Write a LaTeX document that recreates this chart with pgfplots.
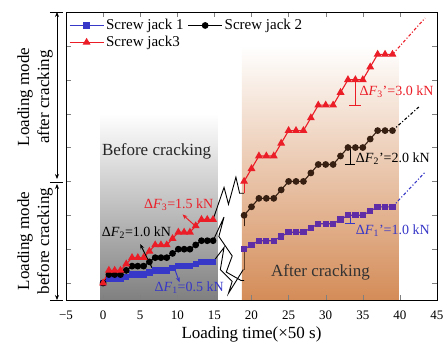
\documentclass[border=0pt]{standalone}
\usepackage{pgfplots}
\pgfplotsset{compat=1.18}
\usepackage{fontspec}
\setmainfont{Liberation Serif}
\usetikzlibrary{arrows.meta}
\definecolor{cblue}{RGB}{55,55,200}
\definecolor{cred}{RGB}{235,30,40}
\definecolor{cpurple}{RGB}{95,45,165}
\definecolor{cbrown}{RGB}{55,32,18}
\definecolor{corange}{RGB}{212,140,88}
\begin{document}
\begin{tikzpicture}
\begin{axis}[
  at={(0pt,0pt)}, anchor=south west,
  scale only axis, width=371pt, height=288pt,
  xmin=-5, xmax=45, ymin=-2, ymax=32,
  xtick={-5,0,...,45},
  xticklabels={−5,0,5,10,15,20,25,30,35,40,45},
  ytick={0,4,...,28}, yticklabels={},
  tick align=inside,
  major tick length=5pt,
  xticklabel style={font=\fontsize{13}{13}\selectfont, anchor=center, yshift=-15pt},
  xlabel={Loading time(×50 s)},
  xlabel style={font=\fontsize{17}{17}\selectfont, at={(axis description cs:0.5,0)}, anchor=center, yshift=-34pt},
  axis on top,
  legend columns=2,
  legend cell align=left,
  legend style={draw=none, fill=none, at={(axis description cs:0.005,0.985)}, anchor=north west,
    font=\fontsize{15}{15}\selectfont, inner sep=1pt, row sep=1pt,
    /tikz/every even column/.append style={column sep=2pt}},
  legend image code/.code={\draw[mark repeat=2,mark phase=2] plot coordinates {(0pt,0pt) (17pt,0pt) (34pt,0pt)};},
]
% backgrounds
\addplot[draw=none, forget plot, top color=white, bottom color=black!50] coordinates {(-0.4,-2) (-0.4,20) (15.4,20) (15.4,-2) (-0.4,-2)};
\addplot[draw=none, forget plot, top color=white, bottom color=corange] coordinates {(18.7,-2) (18.7,28) (39.8,28) (39.8,-2) (18.7,-2)};

% before cracking
\addplot[cblue, line width=1.1pt, mark=square*, mark size=2.6pt] coordinates {
(0,0) (0.78,0.5) (1.56,0.5) (2.34,0.5) (3.12,0.75) (3.9,1) (4.68,1) (5.46,1) (6.24,1.25) (7.02,1.5) (7.8,1.5) (8.58,1.5) (9.36,1.75) (10.14,2) (10.92,2) (11.7,2) (12.48,2.25) (13.26,2.5) (14.04,2.5) (14.82,2.5)};
\addlegendentry{Screw jack 1}
\addplot[black, line width=1.1pt, mark=*, mark size=2.8pt] coordinates {
(0,0) (0.78,1) (1.56,1) (2.34,1) (3.12,1.5) (3.9,2) (4.68,2) (5.46,2) (6.24,2.5) (7.02,3) (7.8,3) (8.58,3) (9.36,3.5) (10.14,4) (10.92,4) (11.7,4) (12.48,4.5) (13.26,5) (14.04,5) (14.82,5)};
\addlegendentry{Screw jack 2}
\addplot[cred, line width=1.1pt, mark=triangle*, mark size=3.5pt] coordinates {
(0,0) (0.78,1.5) (1.56,1.5) (2.34,1.5) (3.12,2.25) (3.9,3) (4.68,3) (5.46,3) (6.24,3.75) (7.02,4.5) (7.8,4.5) (8.58,4.5) (9.36,5.25) (10.14,6) (10.92,6) (11.7,6) (12.48,6.75) (13.26,7.5) (14.04,7.5) (14.82,7.5)};
\addlegendentry{Screw jack3}

% zigzag breaks
\addplot[black, line width=0.9pt, forget plot] coordinates {(14.82,7.5) (16.3,11.3) (16.9,9.3) (17.9,12.5) (18.4,10.6) (19,10.6)};
\addplot[black, line width=0.9pt, forget plot] coordinates {(14.82,5) (16.3,7.8) (15.6,5.5) (17.4,3.2) (16.6,1.3) (18.6,0.3) (19,0.3)};
\addplot[black, line width=0.9pt, forget plot] coordinates {(14.82,2.5) (16.3,4.2) (15.8,1.6) (17.4,0.2) (16.9,-1.2) (18.9,1.6)};
\addplot[cred, line width=1.1pt, forget plot] coordinates {(19,10.6) (19,12)};
\addplot[cbrown, line width=1.1pt, forget plot] coordinates {(19,6.7) (19,8)};
\addplot[black!40!corange!80!black, line width=1.1pt, forget plot] coordinates {(19,1.6) (19,4)};

% after cracking
\addplot[cpurple, line width=1.1pt, mark=square*, mark size=2.6pt, forget plot] coordinates {
(19,4) (20,4.5) (21,5) (22,5) (23,5) (24,5.5) (25,6) (26,6) (27,6) (28,6.5) (29,7) (30,7) (31,7) (32,7.5) (33,8) (34,8) (35,8) (36,8.5) (37,9) (38,9) (39,9)};
\addplot[cbrown, line width=1.1pt, mark=*, mark size=2.8pt, forget plot] coordinates {
(19,8) (20,9) (21,10) (22,10) (23,10) (24,11) (25,12) (26,12) (27,12) (28,13) (29,14) (30,14) (31,14) (32,15) (33,16) (34,16) (35,16) (36,17) (37,18) (38,18) (39,18)};
\addplot[cred, line width=1.1pt, mark=triangle*, mark size=3.5pt, forget plot] coordinates {
(19,12) (20,13.5) (21,15) (22,15) (23,15) (24,16.5) (25,18) (26,18) (27,18) (28,19.5) (29,21) (30,21) (31,21) (32,22.5) (33,24) (34,24) (35,24) (36,25.5) (37,27) (38,27) (39,27)};

% extensions
\addplot[cblue, line width=1.1pt, dash dot, forget plot] coordinates {(39,9) (43.4,13.1)};
\addplot[black, line width=1.1pt, dash dot, forget plot] coordinates {(39,18) (42.7,20.9)};
\addplot[cred, line width=1.1pt, dash dot, forget plot] coordinates {(39,27) (43.4,31.3)};

% brackets
\addplot[cred, line width=1pt, forget plot] coordinates {(34,24.3) (34,21)};
\addplot[cred, line width=1pt, forget plot] coordinates {(33.2,21) (34.8,21)};
\addplot[black, line width=1pt, forget plot] coordinates {(33.3,16) (33.3,14)};
\addplot[black, line width=1pt, forget plot] coordinates {(32.6,14) (34,14)};
\addplot[cblue, line width=1pt, forget plot] coordinates {(33.3,8) (33.3,7)};
\addplot[cblue, line width=1pt, forget plot] coordinates {(32.6,7) (34,7)};

% arrows
\addplot[cred, line width=1pt, -{Stealth[length=5pt,width=4pt]}, forget plot] coordinates {(12.6,6.6) (10.7,8.1)};
\addplot[black, line width=1pt, -{Stealth[length=5pt,width=4pt]}, forget plot] coordinates {(6.6,1.8) (5.0,4.6)};
\addplot[cblue, line width=1pt, -{Stealth[length=5pt,width=4pt]}, forget plot] coordinates {(9.5,2.0) (10.3,0.1)};

% labels
\node[font=\fontsize{17}{17}\selectfont, text=black!85] at (axis cs:7.2,15.5) {Before cracking};
\node[font=\fontsize{17}{17}\selectfont, text=black!80] at (axis cs:29.3,1.3) {After cracking};
\node[font=\fontsize{14}{14}\selectfont, text=cred] at (axis cs:10.2,9.3) {Δ\textit{F}\textsubscript{3}=1.5 kN};
\node[font=\fontsize{14}{14}\selectfont, text=black] at (axis cs:4.5,6) {Δ\textit{F}\textsubscript{2}=1.0 kN};
\node[font=\fontsize{14}{14}\selectfont, text=cblue] at (axis cs:11.6,-0.5) {Δ\textit{F}\textsubscript{1}=0.5 kN};
\node[font=\fontsize{14}{14}\selectfont, text=cred, anchor=west] at (axis cs:34.1,22.6) {Δ\textit{F}\textsubscript{3}'=3.0 kN};
\node[font=\fontsize{14}{14}\selectfont, text=black, anchor=west] at (axis cs:33.6,14.7) {Δ\textit{F}\textsubscript{2}'=2.0 kN};
\node[font=\fontsize{14}{14}\selectfont, text=cblue, anchor=west] at (axis cs:33.6,6.2) {Δ\textit{F}\textsubscript{1}'=1.0 kN};
\end{axis}
% left annotations
\draw[line width=0.8pt] (-16pt,288pt) -- (-3pt,288pt);
\draw[line width=0.8pt] (-16pt,118pt) -- (-3pt,118pt);
\draw[line width=0.8pt] (-16pt,0pt) -- (-3pt,0pt);
\draw[line width=0.8pt, {Stealth[length=5pt,width=4pt]}-{Stealth[length=5pt,width=4pt]}] (-9pt,288pt) -- (-9pt,121pt);
\draw[line width=0.8pt, {Stealth[length=5pt,width=4pt]}-{Stealth[length=5pt,width=4pt]}] (-9pt,116pt) -- (-9pt,0pt);
\node[rotate=90, font=\fontsize{17}{17}\selectfont] at (-41pt,203pt) {Loading mode};
\node[rotate=90, font=\fontsize{17}{17}\selectfont] at (-21pt,203pt) {after cracking};
\node[rotate=90, font=\fontsize{17}{17}\selectfont] at (-41pt,59pt) {Loading mode};
\node[rotate=90, font=\fontsize{17}{17}\selectfont] at (-21pt,59pt) {before cracking};
\pgfresetboundingbox
\path[use as bounding box] (-66pt,-46pt) rectangle (381pt,300pt);
\end{tikzpicture}
\end{document}
